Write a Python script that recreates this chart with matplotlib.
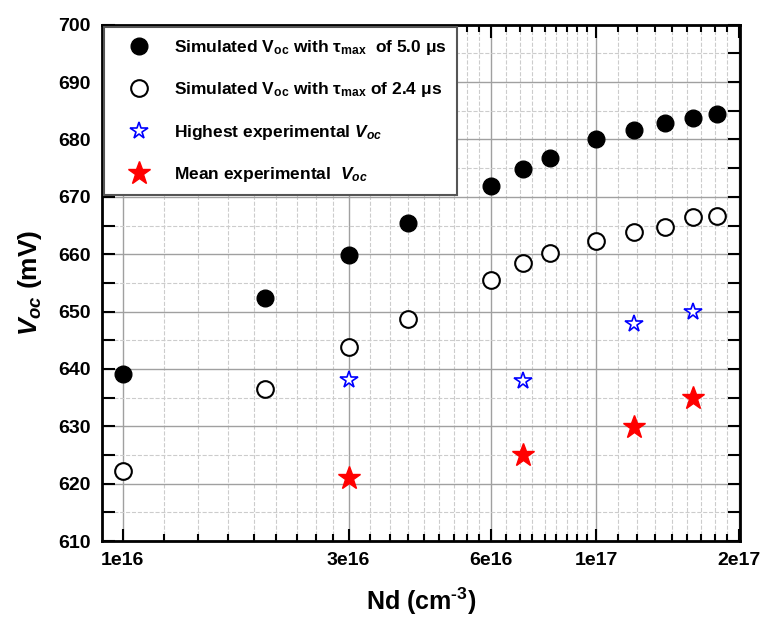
import matplotlib
matplotlib.use('Agg')
import matplotlib.pyplot as plt
import numpy as np

plt.rcParams['font.family'] = ['Liberation Sans', 'DejaVu Sans']
plt.rcParams['font.weight'] = 'bold'
plt.rcParams['mathtext.fontset'] = 'custom'
plt.rcParams['mathtext.rm'] = 'Liberation Sans:bold'
plt.rcParams['mathtext.bf'] = 'Liberation Sans:bold'
plt.rcParams['mathtext.it'] = 'Liberation Sans:bold:italic'
plt.rcParams['mathtext.sf'] = 'Liberation Sans:bold'
plt.rcParams['axes.unicode_minus'] = False

# Simulated Voc, tau_max = 5.0 us
nd_sim = [1e16, 2e16, 3e16, 4e16, 6e16, 7e16, 8e16, 1e17, 1.2e17, 1.4e17, 1.6e17, 1.8e17]
voc_sim_50 = [639.1, 652.4, 659.8, 665.5, 671.9, 674.8, 676.7, 680.1, 681.6, 682.8, 683.7, 684.5]
# Simulated Voc, tau_max = 2.4 us
voc_sim_24 = [622.2, 636.5, 643.8, 648.7, 655.5, 658.5, 660.2, 662.3, 663.8, 664.8, 666.5, 666.6]

# Experimental
nd_exp = [3e16, 7e16, 1.2e17, 1.6e17]
voc_exp_high = [638.0, 637.9, 647.9, 649.9]
voc_exp_mean = [620.9, 625.0, 629.9, 635.0]

x_major = [1e16, 3e16, 6e16, 1e17, 2e17]
x_labels = ['1e16', '3e16', '6e16', '1e17', '2e17']

fig = plt.figure(figsize=(7.65, 6.19), dpi=100)
ax = fig.add_axes([0.133, 0.126, 0.834, 0.834])

ax.plot(nd_sim, voc_sim_50, 'o', color='black', markersize=12, zorder=4,
        label=r'Simulated V$_{\mathrm{oc}}$ with τ$_{\mathrm{max}}$  of 5.0 μs')
ax.plot(nd_sim, voc_sim_24, 'o', mfc='white', mec='black', mew=1.5, markersize=12, zorder=4,
        label=r'Simulated V$_{\mathrm{oc}}$ with τ$_{\mathrm{max}}$ of 2.4 μs')
ax.plot(nd_exp, voc_exp_high, '*', mfc='white', mec='blue', mew=1.2, markersize=13, zorder=4,
        label=r'Highest experimental $V_{oc}$')
ax.plot(nd_exp, voc_exp_mean, '*', color='red', markersize=17, zorder=4,
        label=r'Mean experimental  $V_{oc}$')

ax.set_xscale('log')
ax.set_xlim(0.903e16, 2.01e17)
ax.set_ylim(610, 700)

# Origin-style linear minor ticks between the major ticks
minors = []
for a, b in zip(x_major[:-1], x_major[1:]):
    minors.extend(np.linspace(a, b, 10)[1:-1])
ax.set_xticks(x_major, x_labels)
ax.set_xticks(minors, minor=True)
ax.xaxis.set_minor_formatter(matplotlib.ticker.NullFormatter())
ax.set_yticks(np.arange(610, 701, 10))
ax.set_yticks(np.arange(615, 700, 10), minor=True)

ax.grid(True, which='major', color='#a0a0a0', linewidth=1.0, linestyle='-', zorder=0)
ax.grid(True, which='minor', color='#cccccc', linewidth=0.8, linestyle='--', zorder=0)
ax.set_axisbelow(True)

ax.tick_params(axis='both', which='both', direction='in', top=True, right=True, width=1.5)
ax.tick_params(axis='both', which='major', labelsize=14, pad=8)
ax.tick_params(axis='x', which='major', length=9)
ax.tick_params(axis='x', which='minor', length=5)
ax.tick_params(axis='y', which='both', length=9)
for s in ax.spines.values():
    s.set_linewidth(2)
    s.set_color('black')

ax.set_xlabel(r'Nd (cm$^{\text{-3}}$)', fontsize=18, fontweight='bold', labelpad=12)
ax.set_ylabel(r'$V_{oc}$ (mV)', fontsize=19, fontweight='bold', labelpad=10)

leg = ax.legend(loc='upper left', bbox_to_anchor=(0.0, 1.0), borderaxespad=0.15,
                fontsize=12.5, handlelength=2.8, handletextpad=0.6, labelspacing=1.35,
                borderpad=0.6, fancybox=False, framealpha=1.0, numpoints=1)
leg.get_frame().set_edgecolor('#555555')
leg.get_frame().set_linewidth(1.5)

fig.savefig('out.png', dpi=100, facecolor='white')
